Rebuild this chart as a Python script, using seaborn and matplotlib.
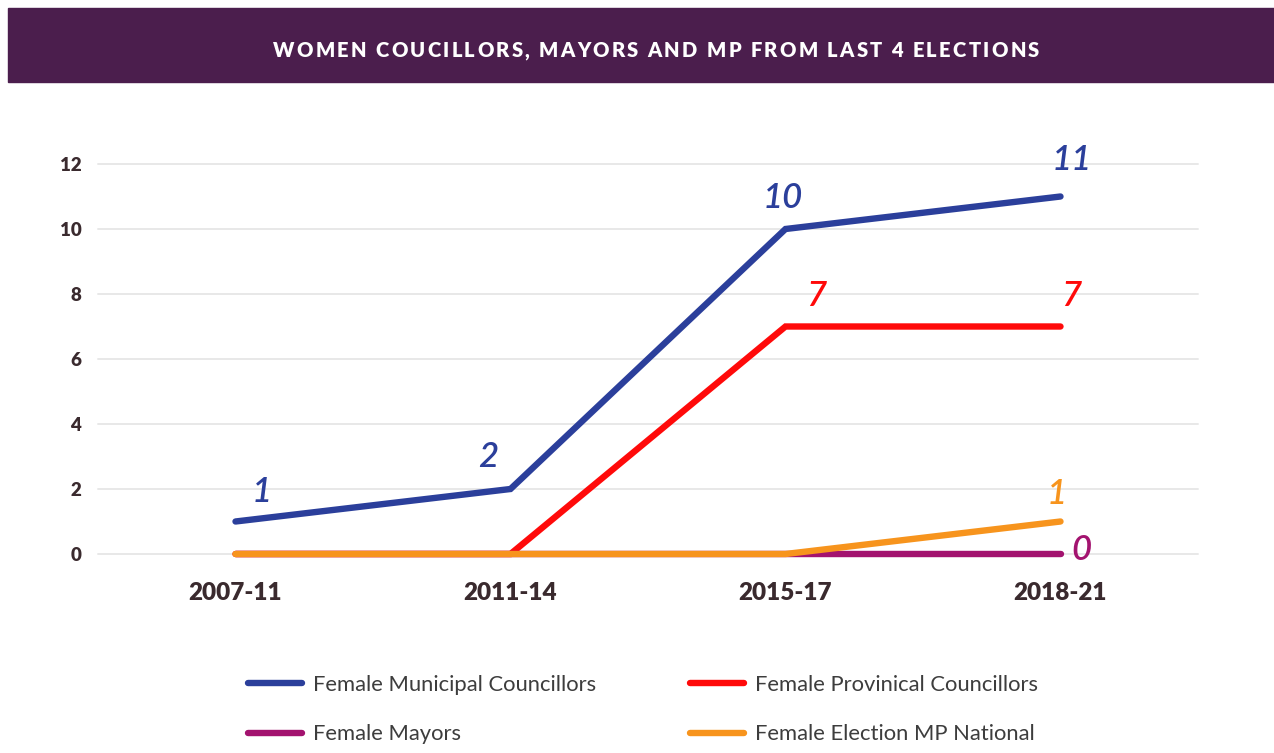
import seaborn as sns
import matplotlib.pyplot as plt
import matplotlib.patches as mpatches
from matplotlib.lines import Line2D
from matplotlib.font_manager import FontProperties
from matplotlib.textpath import TextPath
import pandas as pd

# data
periods = ["2007-11", "2011-14", "2015-17", "2018-21"]
municipal = [1, 2, 10, 11]
provincial = [0, 0, 7, 7]
mayors = [0, 0, 0, 0]
mp_national = [0, 0, 0, 1]

series_names = ["Female Municipal Councillors", "Female Provinical Councillors",
                "Female Mayors", "Female Election MP National"]
series_values = [municipal, provincial, mayors, mp_national]
colors = ["#2b3f9b", "#ff0a0a", "#a3136f", "#f7941d"]
title = "WOMEN COUCILLORS, MAYORS AND MP FROM LAST 4 ELECTIONS"

rows = []
for name, vals in zip(series_names, series_values):
    for p, v in zip(periods, vals):
        rows.append({"period": p, "value": v, "series": name})
df = pd.DataFrame(rows)

sns.set_style("white")
plt.rcParams["font.family"] = ["Lato", "DejaVu Sans"]

W, H = 1274, 753
fig = plt.figure(figsize=(W / 100, H / 100), dpi=100)
ax = fig.add_axes([98 / W, 1 - 554 / H, 1100 / W, 390 / H])

sns.lineplot(data=df, x="period", y="value", hue="series", hue_order=series_names,
             palette=colors, linewidth=4.6, sort=False, legend=False, ax=ax)
for ln in ax.lines:
    ln.set_solid_capstyle("round")
    ln.set_solid_joinstyle("miter")
    ln.set_clip_on(False)
    ln.set_zorder(3)

ax.set_xlim(-0.5, 3.5)
ax.set_ylim(0, 12)
ax.set_yticks(range(0, 13, 2))
ax.set_xlabel("")
ax.set_ylabel("")
ax.grid(axis="y", color="#e8e8e8", linewidth=1.4)
ax.grid(axis="x", visible=False)
for gl in ax.get_ygridlines():
    gl.set_clip_on(False)
sns.despine(ax=ax, left=True, bottom=True)
ax.tick_params(axis="y", length=0, pad=12, labelsize=13.5, labelcolor="#3a2a2e")
ax.tick_params(axis="x", length=0, pad=20, labelsize=17.5, labelcolor="#3a2a2e")
for lab in ax.get_xticklabels() + ax.get_yticklabels():
    lab.set_fontweight("heavy")

# value labels (offsets in points)
label_offsets = {
    0: [(19, 21), (-16, 23), (-2, 22), (8, 26)],
    1: [None, None, (22, 22), (8, 22)],
    2: [None, None, None, (15, 3)],
    3: [None, None, None, (-3, 20)],
}
for si, vals in enumerate(series_values):
    for xi, v in enumerate(vals):
        off = label_offsets[si][xi]
        if off is None:
            continue
        ax.annotate(str(v), (xi, v), xytext=off, textcoords="offset points",
                    ha="center", va="center", fontsize=25, fontstyle="italic",
                    fontweight="semibold", color=colors[si], annotation_clip=False)

# title bar
fig.patches.append(mpatches.Rectangle((8 / W, 1 - 82 / H), 1 - 8 / W, 74 / H,
                                      transform=fig.transFigure, color="#4b1e4d", zorder=0))

# title drawn letter by letter to get the wide tracking
tsize = 14.5
tfont = FontProperties(family="Lato", weight="heavy", size=tsize)
tracking = 2.3  # px between letters
widths = []
for ch in title:
    if ch == " ":
        w = TextPath((0, 0), "a a", prop=tfont).get_extents().width - \
            TextPath((0, 0), "aa", prop=tfont).get_extents().width
    else:
        w = TextPath((0, 0), "|" + ch + "|", prop=tfont).get_extents().width - \
            TextPath((0, 0), "||", prop=tfont).get_extents().width
    widths.append(w * 100 / 72)
total = sum(widths) + tracking * (len(title) - 1)
x = 656 - total / 2
for ch, w in zip(title, widths):
    fig.text(x / W, 1 - 49 / H, ch, ha="left", va="center_baseline", color="white",
             fontproperties=tfont)
    x += w + tracking

# legend in two columns
handles = [Line2D([], [], color=c, linewidth=4.6, solid_capstyle="round") for c in colors]
leg_kw = dict(frameon=False, fontsize=15.8, labelcolor="#3d3d3d", handlelength=2.45,
              handletextpad=0.5, labelspacing=1.33, borderpad=0, borderaxespad=0,
              loc="upper left")
leg1 = fig.legend([handles[0], handles[2]], [series_names[0], series_names[2]],
                  bbox_to_anchor=(248 / W, 1 - 675 / H), **leg_kw)
leg2 = fig.legend([handles[1], handles[3]], [series_names[1], series_names[3]],
                  bbox_to_anchor=(690 / W, 1 - 675 / H), **leg_kw)

fig.savefig("out.png", dpi=100)
